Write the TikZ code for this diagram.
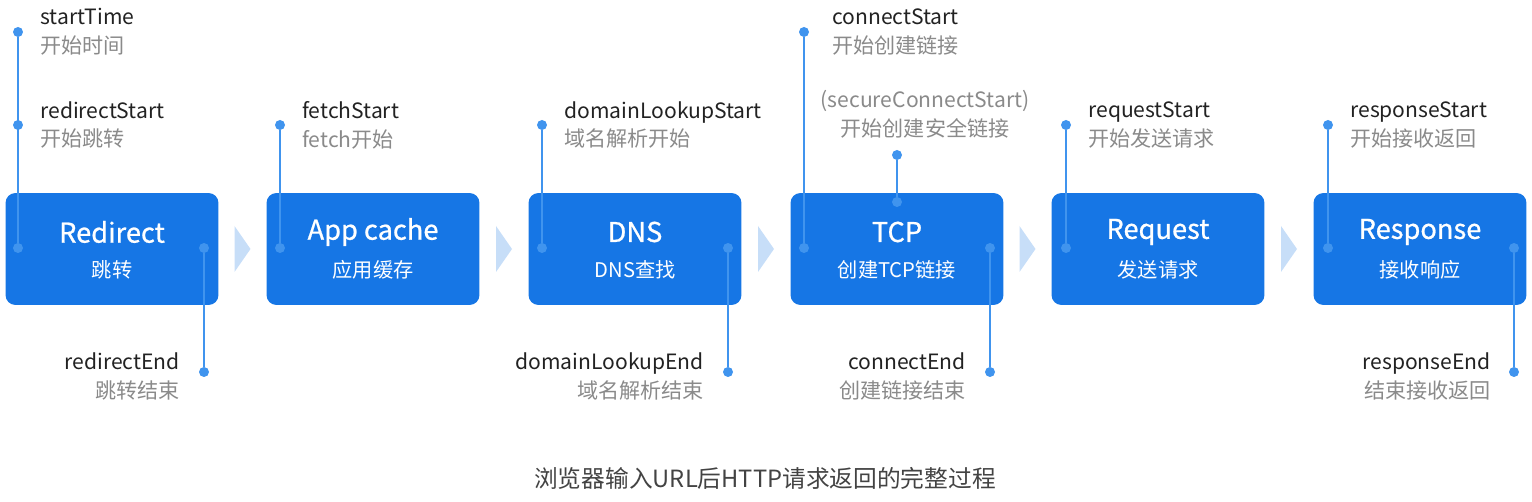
\documentclass[tikz,border=0pt]{standalone}
\usepackage{fontspec}
\setmainfont{Noto Sans CJK SC}
\newfontfamily\stagefont[FakeBold=0.8]{Noto Sans CJK SC}
\usepackage{tikz}
\usetikzlibrary{positioning, calc}
\definecolor{boxblue}{HTML}{1676E5}
\definecolor{lineblue}{HTML}{4094EE}
\definecolor{gapblue}{HTML}{C7DEF8}
\definecolor{subgray}{HTML}{8A8A8A}
\definecolor{txtdark}{HTML}{222222}
\tikzstyle{stage} = [rectangle, rounded corners=0.2cm, fill=boxblue, minimum width=4.26cm, minimum height=2.24cm, inner sep=0pt]
\tikzstyle{title} = [text=white, font=\stagefont\fontsize{15.5}{18}\selectfont, inner sep=0pt]
\tikzstyle{subtitle} = [text=white, font=\fontsize{11.5}{14}\selectfont, inner sep=0pt]
\tikzstyle{dot} = [circle, fill=lineblue, inner sep=0pt, minimum size=0.2cm]
\tikzstyle{tick} = [draw=lineblue, line width=1pt]
\tikzstyle{evt} = [text=txtdark, font=\fontsize{12}{16.5}\selectfont, inner sep=0pt]
\newcommand{\stamp}[2]{#1\\{\color{subgray}#2}}

\begin{document}
\begin{tikzpicture}[x=0.02cm, y=-0.02cm]
                        \useasboundingbox (0,0) rectangle (1532,502);
                        % stages
                        \node [stage] (redirect) at (112, 249) {};
                        \node [stage] (appcache) at (373, 249) {};
                        \node [stage] (dns) at (635, 249) {};
                        \node [stage] (tcp) at (897, 249) {};
                        \node [stage] (request) at (1158, 249) {};
                        \node [stage] (response) at (1420, 249) {};
                        \node [title] at ($(redirect.center)+(0,-17)$) {Redirect};
                        \node [subtitle] at ($(redirect.center)+(0,21)$) {跳转};
                        \node [title] at ($(appcache.center)+(0,-17)$) {App cache};
                        \node [subtitle] at ($(appcache.center)+(0,21)$) {应用缓存};
                        \node [title] at ($(dns.center)+(0,-17)$) {DNS};
                        \node [subtitle] at ($(dns.center)+(0,21)$) {DNS查找};
                        \node [title] at ($(tcp.center)+(0,-17)$) {TCP};
                        \node [subtitle] at ($(tcp.center)+(0,21)$) {创建TCP链接};
                        \node [title] at ($(request.center)+(0,-17)$) {Request};
                        \node [subtitle] at ($(request.center)+(0,21)$) {发送请求};
                        \node [title] at ($(response.center)+(0,-17)$) {Response};
                        \node [subtitle] at ($(response.center)+(0,21)$) {接收响应};
                        % gaps
                        \foreach \a/\b in {redirect/appcache, appcache/dns, dns/tcp, tcp/request, request/response}
                            \fill [gapblue] ($(\a.east)!0.5!(\b.west)+(-8,-23)$) -- ++(16,23) -- ++(-16,23) -- cycle;
                        % redirect
                        \node [dot] (starttime) at (18, 32) {};
                        \node [dot] (redstart) at (18, 125) {};
                        \node [dot] (redin) at (18, 248) {};
                        \node [dot] (redout) at (204, 248) {};
                        \node [dot] (redend) at (204, 372) {};
                        \draw [tick] (starttime) -- (redin);
                        \draw [tick] (redout) -- (redend);
                        \node [evt, anchor=west, align=left] at ($(starttime)+(22,0)$) {\stamp{startTime}{开始时间}};
                        \node [evt, anchor=west, align=left] at ($(redstart)+(22,0)$) {\stamp{redirectStart}{开始跳转}};
                        \node [evt, anchor=east, align=right] at ($(redend)+(-24,4)$) {\stamp{redirectEnd}{跳转结束}};
                        % app cache
                        \node [dot] (fetchstart) at (280, 125) {};
                        \node [dot] (fetchin) at (280, 248) {};
                        \draw [tick] (fetchstart) -- (fetchin);
                        \node [evt, anchor=west, align=left] at ($(fetchstart)+(22,0)$) {\stamp{fetchStart}{fetch开始}};
                        % dns
                        \node [dot] (dnsstart) at (542, 125) {};
                        \node [dot] (dnsin) at (542, 248) {};
                        \node [dot] (dnsout) at (728, 248) {};
                        \node [dot] (dnsend) at (728, 372) {};
                        \draw [tick] (dnsstart) -- (dnsin);
                        \draw [tick] (dnsout) -- (dnsend);
                        \node [evt, anchor=west, align=left] at ($(dnsstart)+(22,0)$) {\stamp{domainLookupStart}{域名解析开始}};
                        \node [evt, anchor=east, align=right] at ($(dnsend)+(-24,4)$) {\stamp{domainLookupEnd}{域名解析结束}};
                        % tcp
                        \node [dot] (tcpstart) at (804, 32) {};
                        \node [dot] (tcpin) at (804, 248) {};
                        \node [dot] (secstart) at (897, 155) {};
                        \node [dot] (secin) at (897, 202) {};
                        \node [dot] (tcpout) at (990, 248) {};
                        \node [dot] (tcpend) at (990, 372) {};
                        \draw [tick] (tcpstart) -- (tcpin);
                        \draw [tick] (secstart) -- (secin);
                        \draw [tick] (tcpout) -- (tcpend);
                        \node [evt, anchor=west, align=left] at ($(tcpstart)+(28,0)$) {\stamp{connectStart}{开始创建链接}};
                        \node [evt, anchor=south, align=center, text=subgray] at ($(secstart)+(28,-16)$) {(secureConnectStart)\\开始创建安全链接};
                        \node [evt, anchor=east, align=right] at ($(tcpend)+(-24,4)$) {\stamp{connectEnd}{创建链接结束}};
                        % request
                        \node [dot] (reqstart) at (1066, 125) {};
                        \node [dot] (reqin) at (1066, 248) {};
                        \draw [tick] (reqstart) -- (reqin);
                        \node [evt, anchor=west, align=left] at ($(reqstart)+(22,0)$) {\stamp{requestStart}{开始发送请求}};
                        % response
                        \node [dot] (resstart) at (1328, 125) {};
                        \node [dot] (resin) at (1328, 248) {};
                        \node [dot] (resout) at (1514, 248) {};
                        \node [dot] (resend) at (1514, 372) {};
                        \draw [tick] (resstart) -- (resin);
                        \draw [tick] (resout) -- (resend);
                        \node [evt, anchor=west, align=left] at ($(resstart)+(22,0)$) {\stamp{responseStart}{开始接收返回}};
                        \node [evt, anchor=east, align=right] at ($(resend)+(-23,4)$) {\stamp{responseEnd}{结束接收返回}};
                        % caption
                        \node [text=txtdark!85, font=\fontsize{13.5}{16}\selectfont] (caption) at (765, 478) {浏览器输入URL后HTTP请求返回的完整过程};
                    \end{tikzpicture}
\end{document}
